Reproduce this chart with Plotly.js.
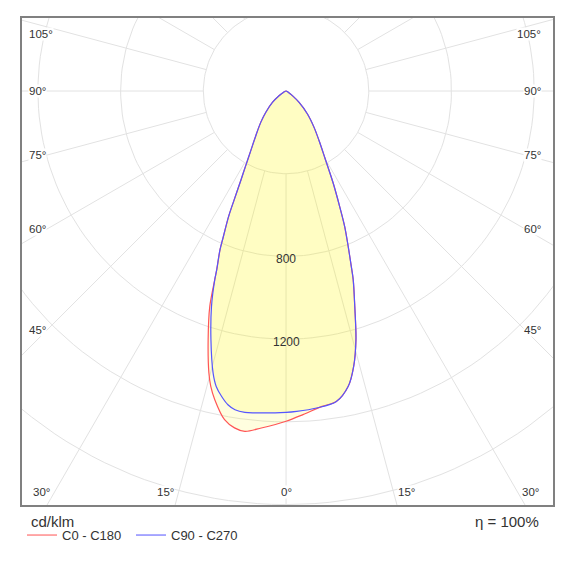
<!DOCTYPE html>
<html><head><meta charset="utf-8">
<script src="https://cdn.plot.ly/plotly-3.0.1.min.js"></script>
<style>html,body{margin:0;padding:0;background:#fff}#chart{width:570px;height:570px}</style>
</head><body><div id="chart"></div>
<script>
// ---- data (gamma in degrees, negative = left half-plane; intensity in cd/klm) ----
const gammaC0 = [-68, -62, -56, -50, -43.5, -38.9, -34.1, -30.6, -28.4, -26.9, -25.5, -24.6, -23.3, -22.6, -21.2, -20.7, -19.5, -17.4, -15.3, -14.3, -13, -10.6, -8.7, -6.9, -4.2, 0, 3, 6.5, 9.2, 11.9, 13.8, 15.7, 17.7, 19.6, 20.4, 21.8, 23.4, 24.9, 27.1, 30.2, 33.6, 37.6, 42.9, 48.7, 53.7, 60, 66];
const intensityC0 = [0, 15, 41, 86, 143, 195, 261, 335, 410, 481, 582, 667, 766, 831, 927, 976, 1105, 1260, 1414, 1474, 1532, 1617, 1648, 1658, 1634, 1597, 1567, 1535, 1521, 1459, 1371, 1249, 1093, 968, 905, 809, 714, 616, 500, 372, 289, 222, 152, 84, 38, 12, 0];
const gammaC90 = [-68, -62, -56, -50, -43.5, -38.9, -34.1, -30.6, -28.4, -26.9, -25.5, -24.6, -23.3, -22.6, -21.2, -20.7, -19.1, -16.8, -14.5, -13.3, -11.9, -10.5, -9.1, -7.3, -5.6, 0, 1.9, 5.5, 9.2, 11.9, 13.8, 15.7, 17.7, 19.6, 20.4, 21.8, 23.4, 24.9, 27.1, 30.2, 33.6, 37.6, 42.9, 48.7, 53.7, 60, 66];
const intensityC90 = [0, 15, 41, 86, 143, 195, 261, 335, 410, 481, 582, 667, 766, 831, 927, 976, 1102, 1257, 1409, 1468, 1510, 1543, 1561, 1567, 1564, 1554, 1550, 1540, 1521, 1459, 1371, 1249, 1093, 968, 905, 809, 714, 616, 500, 372, 289, 222, 152, 84, 38, 12, 0];
const seriesNames = ['C0 - C180', 'C90 - C270'];
const ringValues = [400, 800, 1200, 1600, 2000, 2400];
const ringLabels = [800, 1200];
const spokeAngles = [0, 15, 30, 45, 60, 75, 90, 105, 120, 135, 150, 165, 180, 195, 210, 225, 240, 255, 270, 285, 300, 315, 330, 345];
const sideAngleLabels = [105, 90, 75, 60, 45];
const bottomAngleLabels = [30, 15, 0];
const unitLabel = 'cd/klm';
const efficiencyLabel = 'η = 100%';

// ---- geometry helpers ----
const FONT = 'Liberation Sans, Arial, sans-serif';
const PX = 531 / 2568; // pixels per cd/klm (plot width / x range)
function polar(g, r) { const a = g * Math.PI / 180; return [r * Math.sin(a), -r * Math.cos(a)]; }

// grid rings
const gx = [], gy = [];
ringValues.forEach(r => {
  for (let a = 0; a <= 360; a += 2) { const p = polar(a, r); gx.push(p[0]); gy.push(p[1]); }
  gx.push(null); gy.push(null);
});
// grid spokes (start at innermost ring)
spokeAngles.forEach(a => {
  const p0 = polar(a, ringValues[0]), p1 = polar(a, 4000);
  gx.push(p0[0], p1[0], null); gy.push(p0[1], p1[1], null);
});

function curve(gs, is) {
  const x = [], y = [];
  gs.forEach((g, i) => { const p = polar(g, is[i]); x.push(p[0]); y.push(p[1]); });
  return {x, y};
}
const c0 = curve(gammaC0, intensityC0);
const c90 = curve(gammaC90, intensityC90);
const RED = 'rgb(255,85,85)', BLUE = 'rgb(85,85,255)';
const FILL = 'rgba(255,250,0,0.125)';

const traces = [
  {x: gx, y: gy, mode: 'lines', line: {color: '#e2e2e2', width: 1}, hoverinfo: 'skip', showlegend: false},
  {x: c0.x, y: c0.y, mode: 'lines', fill: 'toself', fillcolor: FILL, line: {color: RED, width: 1.2, shape: 'spline', smoothing: 0.9}, showlegend: false, hoverinfo: 'skip'},
  {x: c90.x, y: c90.y, mode: 'lines', fill: 'toself', fillcolor: FILL, line: {color: BLUE, width: 1.2, shape: 'spline', smoothing: 0.9}, showlegend: false, hoverinfo: 'skip'},
  {x: [null], y: [null], mode: 'lines', name: seriesNames[0], line: {color: 'rgb(255,140,140)', width: 1.5}},
  {x: [null], y: [null], mode: 'lines', name: seriesNames[1], line: {color: 'rgb(140,140,255)', width: 1.5}}
];

const ann = [];
const labelFont = {family: FONT, size: 11.5, color: '#333'};
// side labels
const sideDist = 239 / PX;
sideAngleLabels.forEach(a => {
  const yv = -sideDist / Math.tan(a * Math.PI / 180);
  const ya = a > 90 ? 'top' : 'middle';
  ann.push({xref: 'paper', yref: 'y', x: 0, y: yv, xanchor: 'left', yanchor: ya, xshift: 6, text: a + '°', showarrow: false, font: labelFont, bgcolor: '#fff', borderpad: 0});
  ann.push({xref: 'paper', yref: 'y', x: 1, y: yv, xanchor: 'right', yanchor: ya, xshift: -11, text: a + '°', showarrow: false, font: labelFont, bgcolor: '#fff', borderpad: 0});
});
// bottom labels
const bottomY = -(492 - 91.3) / PX;
bottomAngleLabels.forEach(a => {
  const xv = -bottomY * Math.tan(a * Math.PI / 180);
  if (a === 0) {
    ann.push({x: 0, y: bottomY, xanchor: 'center', yanchor: 'middle', text: a + '°', showarrow: false, font: labelFont, bgcolor: '#fff', borderpad: 0});
  } else {
    ann.push({x: -xv, y: bottomY, xanchor: 'right', yanchor: 'middle', xshift: -4, text: a + '°', showarrow: false, font: labelFont, bgcolor: '#fff', borderpad: 0});
    ann.push({x: xv, y: bottomY, xanchor: 'left', yanchor: 'middle', xshift: 4, text: a + '°', showarrow: false, font: labelFont, bgcolor: '#fff', borderpad: 0});
  }
});
// ring labels
ringLabels.forEach(r => {
  ann.push({x: 0, y: -r, yshift: -3, xanchor: 'center', yanchor: 'middle', text: String(r), showarrow: false, font: {family: FONT, size: 12, color: '#333'}});
});
// unit & efficiency
ann.push({xref: 'paper', yref: 'paper', x: 0, y: -16 / 487, xshift: 7, xanchor: 'left', yanchor: 'middle', text: unitLabel, showarrow: false, font: {family: FONT, size: 15, color: '#333'}});
ann.push({xref: 'paper', yref: 'paper', x: 1, y: -16 / 487, xshift: -12, xanchor: 'right', yanchor: 'middle', text: efficiencyLabel, showarrow: false, font: {family: FONT, size: 15, color: '#333'}});

const axisCommon = {showgrid: false, zeroline: false, showticklabels: false, ticks: '', showline: true, mirror: true, linecolor: '#808080', linewidth: 2, fixedrange: true};
const layout = {
  width: 570, height: 570,
  margin: {l: 22, r: 17, t: 18, b: 65},
  paper_bgcolor: '#fff', plot_bgcolor: '#fff',
  xaxis: Object.assign({range: [-1277, 1291]}, axisCommon),
  yaxis: Object.assign({range: [-2002, 353]}, axisCommon),
  showlegend: true,
  legend: {orientation: 'h', x: 0, xanchor: 'left', y: -0.031, yanchor: 'top', bgcolor: 'rgba(0,0,0,0)', font: {family: FONT, size: 13, color: '#333'}, entrywidth: 64, entrywidthmode: 'pixels'},
  annotations: ann,
  font: {family: FONT}
};
Plotly.newPlot('chart', traces, layout, {displayModeBar: false, staticPlot: true});
</script></body></html>
